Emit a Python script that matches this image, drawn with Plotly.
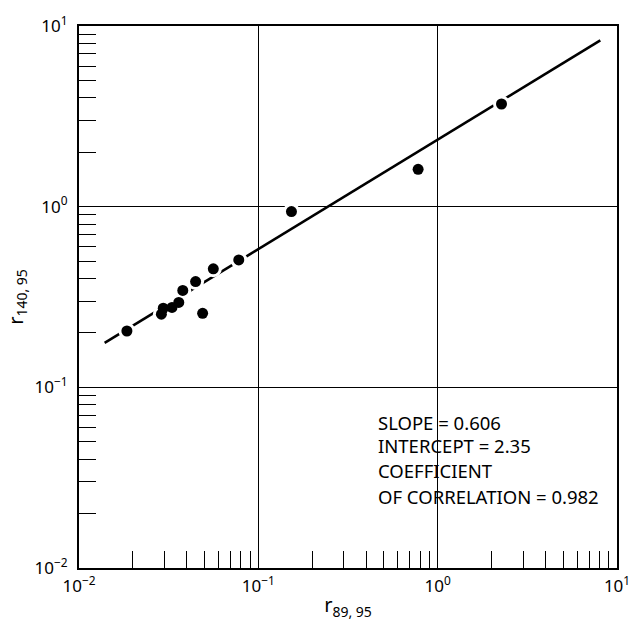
import plotly.graph_objects as go
import numpy as np

# Data (log-log)
r89_95 = [0.0185, 0.0288, 0.0295, 0.033, 0.036, 0.0379, 0.0447, 0.0489, 0.0561, 0.0778, 0.153, 0.778, 2.27]
r140_95 = [0.205, 0.254, 0.274, 0.277, 0.295, 0.344, 0.385, 0.257, 0.453, 0.507, 0.94, 1.61, 3.70]

slope = 0.606
intercept = 2.35
fit_x_range = [0.0139, 8.07]

stats_lines = ["SLOPE = 0.606", "INTERCEPT = 2.35", "COEFFICIENT", "OF CORRELATION = 0.982"]

major_vals = [0.01, 0.1, 1, 10]
major_text = ["10<sup>\u22122</sup>", "10<sup>\u22121</sup>", "10<sup>0</sup>", "10<sup>1</sup>"]

fit_x = np.logspace(np.log10(fit_x_range[0]), np.log10(fit_x_range[1]), 50)
fit_y = intercept * fit_x ** slope

minor_vals = [m * d for d in major_vals[:-1] for m in range(2, 10)]

FONT = "Noto Sans"

fig = go.Figure()
fig.add_trace(go.Scatter(x=fit_x, y=fit_y, mode="lines",
                         line=dict(color="black", width=2.6), showlegend=False))
fig.add_trace(go.Scatter(x=r89_95, y=r140_95, mode="markers",
                         marker=dict(color="white", size=17), showlegend=False))
fig.add_trace(go.Scatter(x=r89_95, y=r140_95, mode="markers",
                         marker=dict(color="black", size=11), showlegend=False))

axis_common = dict(
    type="log", range=[-2, 1],
    tickvals=major_vals, ticktext=major_text,
    ticks="", showline=True, linecolor="black", linewidth=2, mirror=True,
    showgrid=True, gridcolor="black", gridwidth=1.4,
    zeroline=False,
    tickfont=dict(family=FONT, size=17, color="black"),
    minor=dict(tickvals=minor_vals, ticks="inside", ticklen=17,
               tickcolor="black", tickwidth=1.2, showgrid=False),
)

fig.update_xaxes(**axis_common, ticklabelstandoff=2,
                 title=dict(text="r<sub>89, 95</sub>", font=dict(family=FONT, size=20, color="black"),
                            standoff=2))
fig.update_yaxes(**axis_common, ticklabelstandoff=6,
                 title=dict(text="r<sub>140, 95</sub>", font=dict(family=FONT, size=20, color="black"),
                            standoff=6))

line_y_px = [420, 444, 469, 495]
for txt, ypx in zip(stats_lines, line_y_px):
    fig.add_annotation(text=txt, xref="paper", yref="paper",
                       x=(382 - 79) / 549, y=(568 - ypx) / 550,
                       xanchor="left", yanchor="middle", showarrow=False,
                       font=dict(family=FONT, size=18.5, color="black"))

fig.update_layout(
    width=642, height=630,
    margin=dict(l=79, r=14, t=18, b=62),
    plot_bgcolor="white", paper_bgcolor="white",
    showlegend=False,
)

fig.write_html("out.html")
